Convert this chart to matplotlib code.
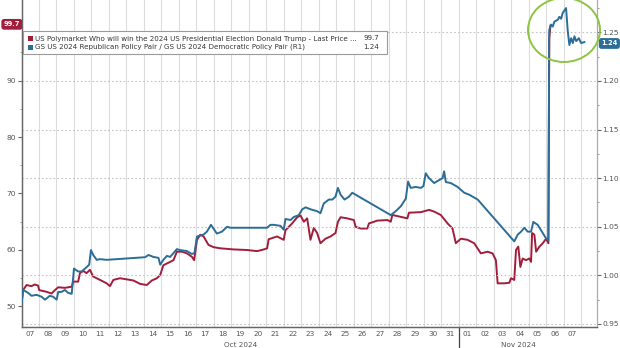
import matplotlib
matplotlib.use("Agg")
import matplotlib.pyplot as plt
import matplotlib.dates as mdates
from matplotlib.patches import Rectangle, Ellipse
import pandas as pd

# ---- data -------------------------------------------------------------
start = pd.Timestamp("2024-10-07 00:00")

# Polymarket: probability of a Trump win (%), left axis
poly_days = [0.00, 0.09, 0.29, 0.57, 0.76, 0.95, 1.01, 1.43, 1.72, 1.91, 2.10, 2.48, 2.87,
             2.96, 3.24, 3.34, 3.53, 3.72, 3.91, 4.10, 4.49, 4.87, 5.06, 5.25, 5.63, 6.02,
             6.40, 6.78, 7.16, 7.45, 7.74, 7.93, 8.11, 8.50, 8.69, 8.88, 9.17, 9.46, 9.74,
             9.87, 10.03, 10.22, 10.41, 10.69, 10.98, 11.36, 12.13, 12.89, 13.47, 13.85,
             14.04, 14.13, 14.61, 14.99, 15.09, 15.47, 15.76, 15.95, 16.14, 16.33, 16.52,
             16.71, 16.90, 17.09, 17.38, 17.67, 17.95, 18.09, 18.24, 18.62, 19.00, 19.10,
             19.39, 19.77, 19.86, 20.34, 20.92, 21.11, 21.20, 21.49, 22.06, 22.15, 22.83,
             23.30, 23.59, 23.97, 24.36, 24.64, 24.83, 25.12, 25.50, 25.88, 26.26, 26.65,
             26.93, 27.12, 27.22, 27.60, 27.89, 27.98, 28.17, 28.27, 28.40, 28.52, 28.65,
             28.84, 29.03, 29.13, 29.19, 29.32, 29.42, 29.61, 29.80, 29.99, 30.12, 30.17,
             30.24]
poly_vals = [50.3, 52.9, 53.8, 53.6, 53.9, 53.7, 52.9, 52.6, 52.3, 52.9, 53.4, 53.3, 53.5,
             54.4, 54.4, 55.9, 56.3, 55.9, 56.5, 55.3, 54.7, 54.1, 53.6, 54.7, 55.0, 54.8,
             54.6, 54.0, 53.8, 54.6, 55.0, 55.6, 57.3, 57.9, 58.2, 59.7, 59.7, 59.4, 58.8,
             58.2, 61.8, 62.7, 62.4, 60.9, 60.5, 60.3, 60.1, 60.0, 59.8, 60.1,
             60.3, 61.9, 62.4, 61.8, 63.5, 64.7, 65.8, 66.1, 65.0, 65.6, 61.8,
             63.9, 63.0, 61.2, 62.0, 62.4, 63.0, 65.0, 65.8, 65.6, 65.3, 64.1,
             63.8, 63.8, 64.7, 65.2, 65.3, 65.0, 66.2, 66.0, 65.6, 66.6, 66.7,
             67.1, 66.8, 66.2, 64.7, 63.8, 61.2, 62.0, 61.8, 61.2, 59.4, 59.7,
             59.4, 58.2, 54.1, 54.1, 54.2, 55.0, 54.7, 60.0, 60.6, 57.0, 58.5,
             58.2, 58.5, 57.9, 63.0, 62.7, 59.7, 60.6, 61.2, 62.0, 61.2, 97.5,
             99.7]

# GS Republican / Democratic policy pair, right axis
pair_days = [0.00, 0.09, 0.38, 0.57, 0.86, 1.15, 1.34, 1.62, 1.81, 2.01, 2.10, 2.29, 2.48,
             2.67, 2.87, 3.00, 3.24, 3.44, 3.72, 3.87, 3.97, 4.10, 4.30, 4.49, 4.87, 7.07,
             7.26, 7.54, 7.83, 7.93, 8.11, 8.31, 8.50, 8.69, 8.88, 9.07, 9.46, 9.74, 9.89,
             10.03, 10.41, 10.60, 10.83, 10.98, 11.17, 11.46, 11.75, 11.94, 14.04, 14.23,
             14.42, 14.80, 14.99, 15.09, 15.38, 15.56, 15.85, 16.05, 16.24, 16.52, 16.90,
             17.09, 17.28, 17.57, 17.77, 17.95, 18.09, 18.24, 18.47, 18.72, 18.91, 21.11,
             21.39, 21.68, 21.97, 22.10, 22.25, 22.54, 22.83, 22.98, 23.11, 23.30, 23.59,
             23.87, 24.07, 24.16, 24.26, 24.54, 24.93, 25.12, 25.31, 25.60, 25.79, 26.08,
             28.17, 28.37, 28.56, 28.74, 28.94, 29.13, 29.26, 29.51, 29.80, 29.99, 30.12,
             30.17, 30.27, 30.37, 30.46, 30.66, 30.75, 30.85, 30.94, 31.13, 31.23, 31.32,
             31.42, 31.52, 31.61, 31.71, 31.86, 31.99, 32.18]
pair_vals = [0.971, 0.985, 0.982, 0.979, 0.980, 0.978, 0.975, 0.979, 0.978, 0.975, 0.983,
             0.983, 0.985, 0.982, 0.981, 1.007, 1.004, 1.004, 1.0085, 1.011, 1.026, 1.021,
             1.016, 1.0167, 1.016, 1.0187, 1.021, 1.019, 1.018, 1.011, 1.016, 1.020, 1.019,
             1.023, 1.027, 1.026, 1.025, 1.022, 1.023, 1.040, 1.042, 1.045, 1.052, 1.048,
             1.043, 1.045, 1.050, 1.049, 1.049, 1.052, 1.052, 1.051, 1.047, 1.058, 1.057,
             1.060, 1.062, 1.068, 1.070, 1.068, 1.066, 1.064, 1.074, 1.078, 1.078, 1.081,
             1.090, 1.083, 1.078, 1.081, 1.085, 1.062, 1.066, 1.071, 1.079, 1.0965, 1.090,
             1.091, 1.090, 1.092, 1.105, 1.100, 1.095, 1.098, 1.100, 1.107, 1.096, 1.095,
             1.091, 1.088, 1.085, 1.083, 1.081, 1.078, 1.035, 1.042, 1.045, 1.049, 1.045,
             1.045, 1.055, 1.052, 1.0435, 1.038, 1.036, 1.2526, 1.258, 1.256, 1.261, 1.263,
             1.266, 1.264, 1.270, 1.275, 1.251, 1.237, 1.244, 1.239, 1.246, 1.241, 1.244,
             1.239, 1.240]

poly_name = "US Polymarket Who will win the 2024 US Presidential Election Donald Trump - Last Price ..."
pair_name = "GS US 2024 Republican Policy Pair / GS US 2024 Democratic Policy Pair (R1)"

left_ticks = [50, 60, 70, 80, 90]
right_ticks = [0.95, 1.00, 1.05, 1.10, 1.15, 1.20, 1.25]

RED = "#a21d3b"
BLUE = "#2b6d96"
GRID = "#dcdcdc"
TXT = "#555555"

# ---- figure -----------------------------------------------------------
W, H = 620, 348
fig = plt.figure(figsize=(W / 100, H / 100), dpi=100)
fig.patch.set_facecolor("white")


def fx(x):
    return x / W


def fy(y):
    return 1 - y / H


ax = fig.add_axes([fx(21.5), fy(327), (597 - 21.5) / W, 327 / H])
ax2 = ax.twinx()

poly_t = start + pd.to_timedelta(poly_days, unit="D")
pair_t = start + pd.to_timedelta(pair_days, unit="D")

ax.plot(poly_t, poly_vals, color=RED, lw=1.4, zorder=3)
ax2.plot(pair_t, pair_vals, color=BLUE, lw=1.4, zorder=3)

ax.set_xlim(start, start + pd.Timedelta(days=32.9))
ax.set_ylim(46.37, 104.25)
ax2.set_ylim(0.9469, 1.2833)

# day gridlines at midnight, day labels at noon
ax.xaxis.set_minor_locator(mdates.DayLocator())
noon = pd.date_range("2024-10-07 12:00", "2024-11-07 12:00", freq="D")
ax.set_xticks(noon)
ax.set_xticklabels([t.strftime("%d") for t in noon])
ax.tick_params(axis="x", which="major", length=0, labelsize=5.2, colors=TXT, pad=3)
ax.tick_params(axis="x", which="minor", length=0)
ax.grid(True, axis="x", which="minor", color=GRID, lw=0.8)
ax.grid(False, axis="x", which="major")

# left axis
ax.set_yticks(left_ticks)
ax.set_yticks([55, 65, 75, 85, 95], minor=True)
ax.tick_params(axis="y", which="major", length=3, width=0.8, labelsize=5.4,
               colors="#666666", labelcolor=TXT, pad=1)
ax.tick_params(axis="y", which="minor", length=1.5, width=0.6, colors="#888888")

# right axis with dotted gridlines
ax2.set_yticks(right_ticks)
ax2.set_yticklabels([f"{v:.2f}" for v in right_ticks])
ax2.set_yticks([0.975, 1.025, 1.075, 1.125, 1.175, 1.225, 1.275], minor=True)
ax2.tick_params(axis="y", which="major", length=3, width=0.8, labelsize=5.4,
                colors="#666666", labelcolor=TXT, pad=1)
ax2.tick_params(axis="y", which="minor", length=1.5, width=0.6, colors="#888888")
ax2.grid(True, axis="y", which="major", color="#c4c4c4", lw=0.8, ls=(0, (1.5, 2)))

for a in (ax, ax2):
    a.spines["top"].set_visible(False)
    a.spines["left"].set_color("#666666")
    a.spines["bottom"].set_color("#666666")
    a.spines["right"].set_color("#aaaaaa")
    a.spines["left"].set_linewidth(0.9)
    a.spines["bottom"].set_linewidth(0.9)
    a.spines["right"].set_linewidth(0.8)

# month separator and month labels
nov1 = pd.Timestamp("2024-11-01")
ax.plot([nov1, nov1], [0, -0.075], transform=ax.get_xaxis_transform(),
        color="#444444", lw=0.9, clip_on=False)
ax.text(pd.Timestamp("2024-10-19 12:00"), -0.047, "Oct 2024",
        transform=ax.get_xaxis_transform(), ha="center", va="top", fontsize=5.2, color=TXT)
ax.text(pd.Timestamp("2024-11-04 10:00"), -0.047, "Nov 2024",
        transform=ax.get_xaxis_transform(), ha="center", va="top", fontsize=5.2, color=TXT)

# last-value tags on the axes
ax.annotate(f"{poly_vals[-1]:.1f}", xy=(0, poly_vals[-1]),
            xycoords=("axes fraction", "data"), xytext=(-1, 1), textcoords="offset points",
            ha="right", va="center", fontsize=4.8, color="white", fontweight="bold",
            bbox=dict(boxstyle="round,pad=0.25,rounding_size=0.3", fc=RED, ec=RED))
ax2.annotate(f"{pair_vals[-1]:.2f}", xy=(1, pair_vals[-1]),
             xycoords=("axes fraction", "data"), xytext=(3, -1), textcoords="offset points",
             ha="left", va="center", fontsize=4.8, color="white", fontweight="bold",
             bbox=dict(boxstyle="round,pad=0.25,rounding_size=0.3", fc=BLUE, ec=BLUE))

# legend box
fig.patches.append(Rectangle((fx(23), fy(54)), fx(387) - fx(23), fy(31) - fy(54),
                             transform=fig.transFigure, fc="white", ec="#9a9a9a",
                             lw=0.8, zorder=5))
for row_y, color, name, value in [(38.5, RED, poly_name, f"{poly_vals[-1]:.1f}"),
                                  (47.0, BLUE, pair_name, f"{pair_vals[-1]:.2f}")]:
    fig.patches.append(Rectangle((fx(27.5), fy(row_y + 2.5)), 5 / W, 5 / H,
                                 transform=fig.transFigure, fc=color, ec="none", zorder=6))
    fig.text(fx(35), fy(row_y), name, ha="left", va="center", fontsize=5.1,
             color="#333333", zorder=7)
    fig.text(fx(379), fy(row_y), value, ha="right", va="center", fontsize=5.1,
             color="#333333", zorder=7)

# highlight ring around the post-election move
fig.patches.append(Ellipse((fx(564), fy(30)), 72 / W, 64 / H, transform=fig.transFigure,
                           fc="none", ec="#8cc443", lw=1.4, zorder=8))

fig.savefig("out.png", dpi=100, facecolor="white")
